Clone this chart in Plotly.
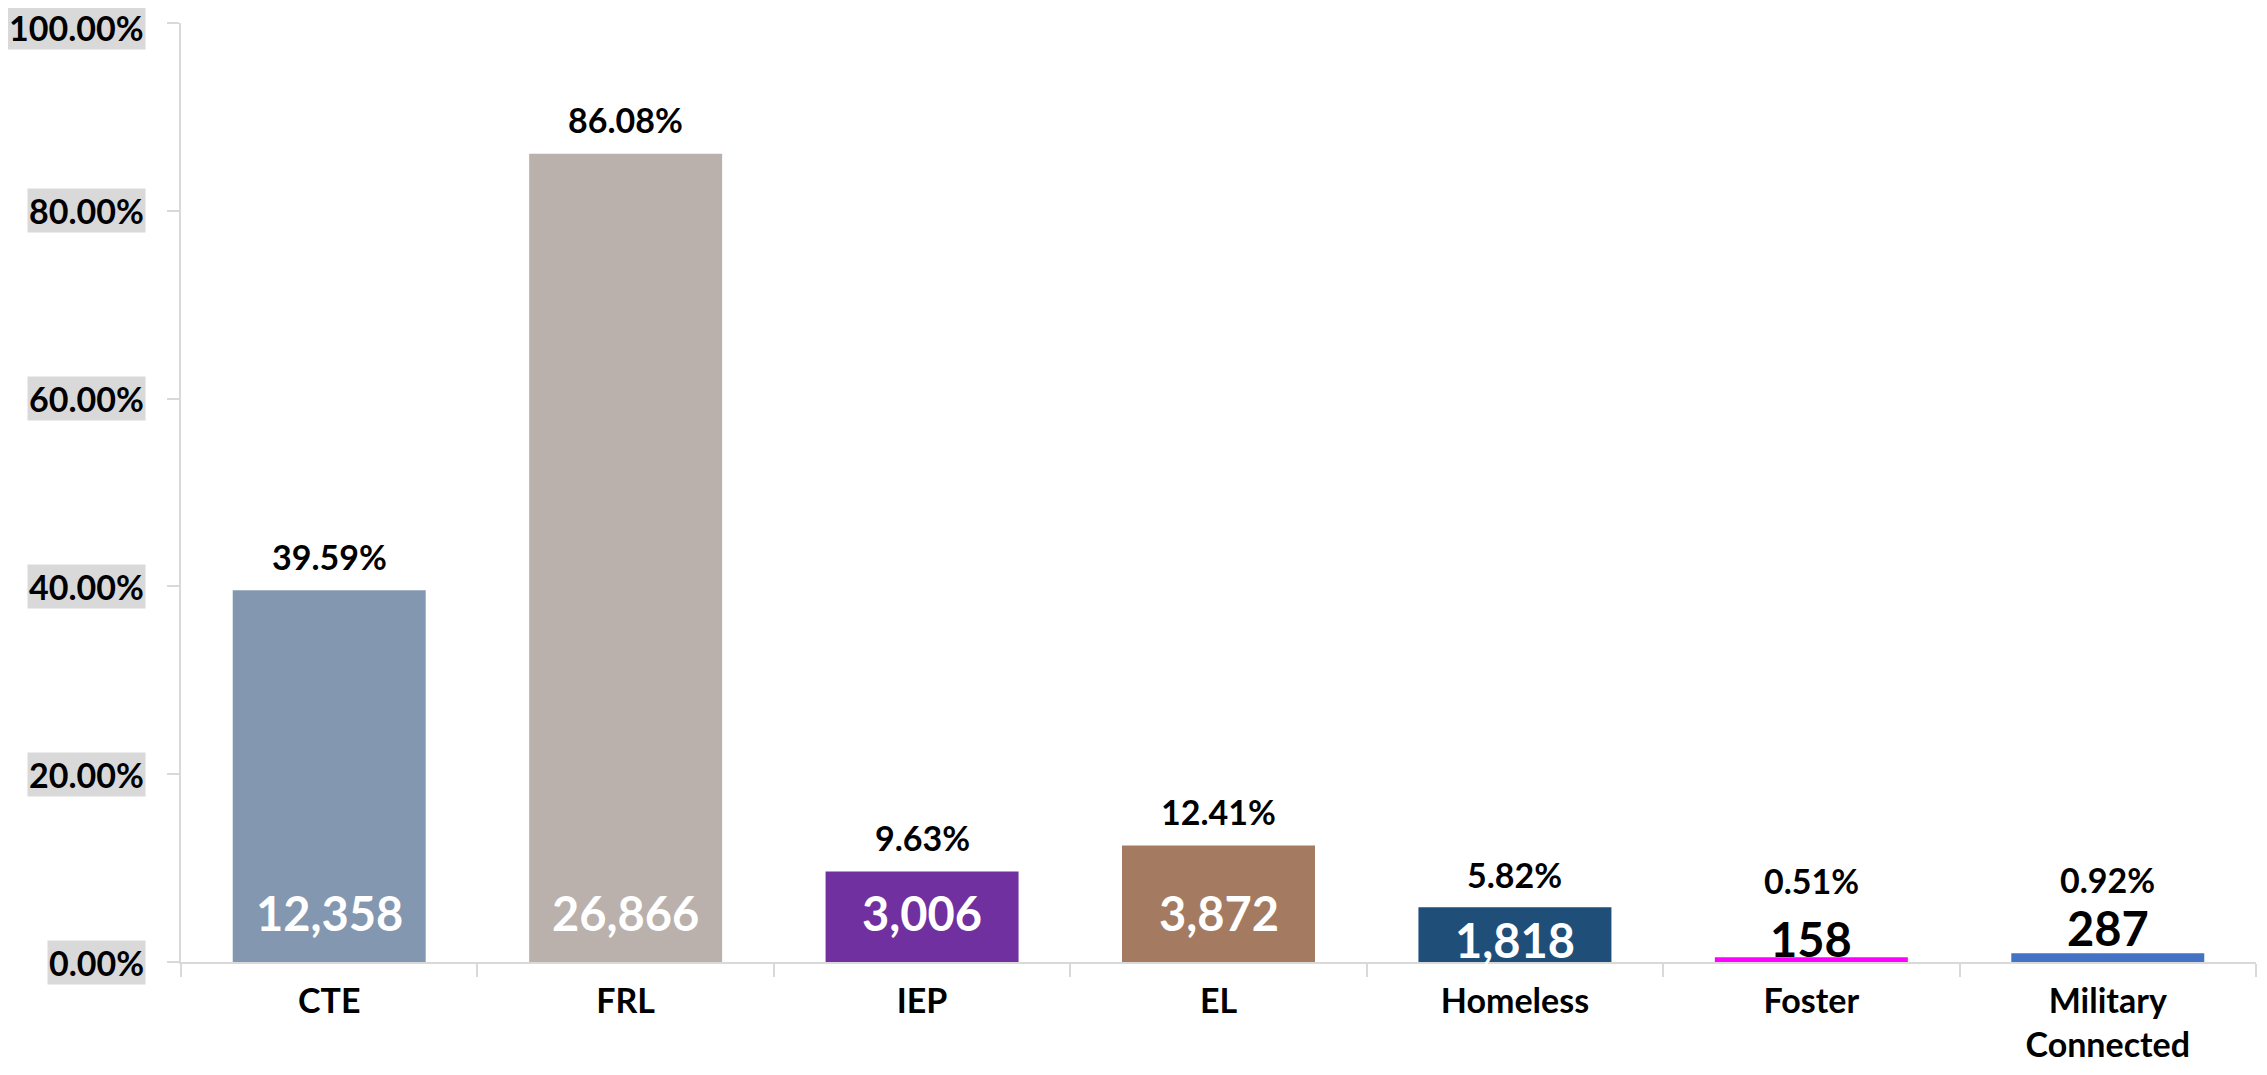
import plotly.graph_objects as go

categories = ["CTE", "FRL", "IEP", "EL", "Homeless", "Foster", "Military<br>Connected"]
percents = [39.59, 86.08, 9.63, 12.41, 5.82, 0.51, 0.92]
counts = ["12,358", "26,866", "3,006", "3,872", "1,818", "158", "287"]
colors = ["#8497B0", "#BAB0AC", "#7030A0", "#A47A61", "#1F4E79", "#FF00FF", "#4472C4"]
y_ticks = [0, 20, 40, 60, 80, 100]
y_tick_labels = ["0.00%", "20.00%", "40.00%", "60.00%", "80.00%", "100.00%"]

FONT = "Lato, Roboto, sans-serif"

# label placement (pixel offsets): (count anchored at base?, count shift, count color, percent shift)
placement = {
    "CTE": (True, 49, "white", 34),
    "FRL": (True, 49, "white", 34),
    "IEP": (True, 49, "white", 34),
    "EL": (True, 49, "white", 34),
    "Homeless": (True, 22, "white", 33),
    "Foster": (False, 18, "black", 77),
    "Military<br>Connected": (False, 25, "black", 74),
}

fig = go.Figure()
fig.add_trace(go.Bar(
    x=categories, y=percents, marker=dict(color=colors, line=dict(width=0)),
    width=0.651, hoverinfo="skip", showlegend=False,
))

annotations = []
for cat, p, c in zip(categories, percents, counts):
    at_base, cshift, ccol, pshift = placement[cat]
    annotations.append(dict(x=cat, y=0 if at_base else p, xref="x", yref="y",
                            text=f"<b>{c}</b>", showarrow=False, yanchor="middle",
                            yshift=cshift, font=dict(family=FONT, size=47, color=ccol)))
    annotations.append(dict(x=cat, y=p, xref="x", yref="y", text=f"<b>{p:.2f}%</b>",
                            showarrow=False, yanchor="middle", yshift=pshift,
                            font=dict(family=FONT, size=34, color="black")))

for v, lab in zip(y_ticks, y_tick_labels):
    annotations.append(dict(x=0, y=v, xref="paper", yref="y", text=f"<b>{lab}</b>",
                            showarrow=False, xanchor="right", yanchor="middle", xshift=-35,
                            yshift=-4 if v == max(y_ticks) else 0,
                            bgcolor="#D9D9D9", borderpad=1,
                            font=dict(family=FONT, size=34, color="black")))

fig.update_layout(
    width=2259, height=1067,
    margin=dict(l=173, r=11, t=15, b=111),
    paper_bgcolor="white", plot_bgcolor="white",
    annotations=annotations,
    xaxis=dict(
        type="category", showline=True, linecolor="#D9D9D9", linewidth=2,
        ticks="outside", tickson="boundaries", ticklen=13, tickcolor="#D9D9D9", tickwidth=2,
        tickfont=dict(family=FONT, size=34, color="black"),
        tickprefix="<b>", ticksuffix="</b>", ticklabelstandoff=8,
        showgrid=False, zeroline=False,
    ),
    yaxis=dict(
        range=[0, 100], tickvals=y_ticks, showticklabels=False,
        showline=True, linecolor="#D9D9D9", linewidth=2,
        ticks="outside", ticklen=12, tickcolor="#D9D9D9", tickwidth=2,
        showgrid=False, zeroline=False,
    ),
)

fig.write_html("out.html")
